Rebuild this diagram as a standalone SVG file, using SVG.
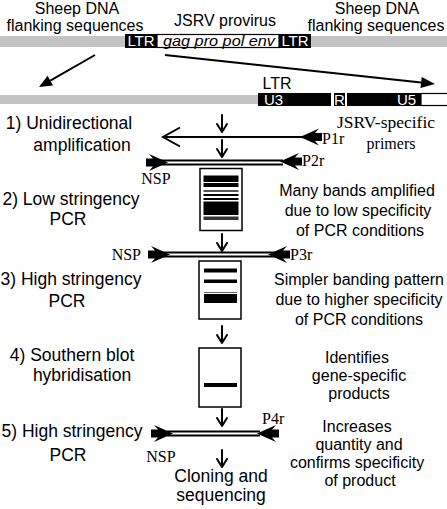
<svg xmlns="http://www.w3.org/2000/svg" width="447" height="509" viewBox="0 0 447 509">
<style>
.sans{font-family:"Liberation Sans",Arial,sans-serif;fill:#000}
.serif{font-family:"Liberation Serif","Times New Roman",serif;fill:#000}
.lbl{font-size:17.5px;text-anchor:middle}
.desc{font-size:16px;text-anchor:middle}
.top{font-size:16px;text-anchor:middle}
.wt{fill:#fff}
.pr{font-size:16px}
.gray{fill:#c4c4c4}
.blk{fill:#000}
.box{fill:#fff;stroke:#000;stroke-width:1.5}
.ln{stroke:#000;stroke-width:2;fill:none}
.dn{stroke:#000;stroke-width:2;fill:none;stroke-linecap:round;stroke-linejoin:round}
</style>
<defs>
<path id="prim" d="M0,0 L-19,-8.5 L-15,-4 L-22,-4 L-22,4 L-15,4 L-19,8.5 Z" fill="#000"/>
<path id="down" d="M0,-17 V0 M-5,-8 L0,0 L5,-8" class="dn"/>
</defs>
<rect width="447" height="509" fill="#fff"/>

<g id="genome-top">
<rect class="gray" x="0" y="36" width="447" height="11"/>
<rect class="blk" x="125" y="34" width="32" height="14"/>
<rect x="157" y="34.5" width="122" height="13" fill="#fff" stroke="#000" stroke-width="1.2"/>
<rect class="blk" x="279" y="34" width="32" height="14"/>
<text class="sans wt" x="141" y="46" font-size="15" text-anchor="middle">LTR</text>
<text class="sans" x="219" y="46" font-size="15" font-style="italic" text-anchor="middle" textLength="112" lengthAdjust="spacingAndGlyphs">gag pro pol env</text>
<text class="sans wt" x="295" y="46" font-size="15" text-anchor="middle">LTR</text>
<text class="sans top" x="77" y="14">Sheep DNA</text>
<text class="sans top" x="75" y="31">flanking sequences</text>
<text class="sans top" x="225" y="26">JSRV provirus</text>
<text class="sans top" x="377" y="14">Sheep DNA</text>
<text class="sans top" x="376" y="31">flanking sequences</text>
</g>

<g id="genome-ltr">
<rect class="gray" x="0" y="95" width="258" height="9"/>
<rect class="blk" x="258" y="93" width="73" height="13"/>
<rect class="blk" x="334" y="93" width="11" height="13"/>
<rect class="blk" x="347" y="93" width="74" height="13"/>
<rect x="421" y="93.5" width="30" height="12" fill="#fff" stroke="#000" stroke-width="1.2"/>
<text class="sans wt" x="264" y="104.5" font-size="15">U3</text>
<text class="sans wt" x="339.5" y="104.5" font-size="15" text-anchor="middle">R</text>
<text class="sans wt" x="397" y="104.5" font-size="15">U5</text>
<text class="sans" x="277" y="89" font-size="16" text-anchor="middle">LTR</text>
</g>

<g id="step1">
<text class="sans lbl" x="69" y="129">1) Unidirectional</text>
<text class="sans lbl" x="82" y="151">amplification</text>
<line class="ln" x1="163" y1="137" x2="305" y2="137"/>
<polyline class="ln" points="180,127.5 163,137 180,146.5"/>
<use href="#prim" transform="translate(300,137) scale(-1,1)"/>
<text class="serif pr" x="322" y="144">P1r</text>
<text class="serif" x="386" y="128" font-size="17.5" text-anchor="middle">JSRV-specific</text>
<text class="serif" x="391" y="149" font-size="16" text-anchor="middle">primers</text>
</g>

<g id="step2">
<text class="sans lbl" x="71" y="205">2) Low stringency</text>
<text class="sans lbl" x="68" y="225">PCR</text>
<rect class="blk" x="153" y="159.5" width="130" height="6"/>
<rect fill="#fff" x="153" y="161.5" width="130" height="2"/>
<use href="#prim" transform="translate(168,162.5)"/>
<use href="#prim" transform="translate(280,161.5) scale(-1,1)"/>
<text class="serif pr" x="302" y="166">P2r</text>
<text class="serif pr" x="156" y="184" text-anchor="middle">NSP</text>
<rect class="box" x="200" y="168.5" width="42" height="62"/>
<g fill="#000">
<rect x="203.5" y="175.5" width="35" height="6.5"/>
<rect x="203.5" y="183" width="35" height="4"/>
<rect x="203.5" y="190" width="35" height="2" fill="#555"/>
<rect x="203.5" y="194" width="35" height="2"/>
<rect x="203.5" y="198" width="35" height="2"/>
<rect x="203.5" y="201.5" width="35" height="13.5"/>
<rect x="203.5" y="216.5" width="35" height="3.5" fill="#333"/>
</g>
<text class="sans desc" x="357" y="196">Many bands amplified</text>
<text class="sans desc" x="358" y="216">due to low specificity</text>
<text class="sans desc" x="360" y="236">of PCR conditions</text>
</g>

<g id="step3">
<text class="sans lbl" x="71" y="285">3) High stringency</text>
<text class="sans lbl" x="67" y="307">PCR</text>
<rect class="blk" x="163" y="251.5" width="112" height="6"/>
<rect fill="#fff" x="163" y="253.5" width="112" height="2"/>
<use href="#prim" transform="translate(170,254.5)"/>
<use href="#prim" transform="translate(268,254.5) scale(-1,1)"/>
<text class="serif pr" x="290" y="260">P3r</text>
<text class="serif pr" x="141" y="260" text-anchor="end">NSP</text>
<rect class="box" x="199" y="261" width="42" height="58"/>
<g fill="#000">
<rect x="204" y="268.5" width="33" height="4"/>
<rect x="204" y="279.5" width="33" height="3.5"/>
<rect x="204" y="292" width="33" height="1" fill="#666"/>
<rect x="204" y="294" width="33" height="9"/>
</g>
<text class="sans desc" x="359" y="285">Simpler banding pattern</text>
<text class="sans desc" x="359" y="305">due to higher specificity</text>
<text class="sans desc" x="359" y="325">of PCR conditions</text>
</g>

<g id="step4">
<text class="sans lbl" x="72" y="361">4) Southern blot</text>
<text class="sans lbl" x="82" y="381">hybridisation</text>
<rect class="box" x="199" y="348" width="42" height="59"/>
<rect class="blk" x="204" y="383" width="33" height="4"/>
<text class="sans desc" x="357" y="363">Identifies</text>
<text class="sans desc" x="359" y="381">gene-specific</text>
<text class="sans desc" x="359" y="399">products</text>
</g>

<g id="step5">
<text class="sans lbl" x="72" y="437">5) High stringency</text>
<text class="sans lbl" x="68" y="461">PCR</text>
<rect class="blk" x="167" y="430.5" width="93" height="6"/>
<rect fill="#fff" x="167" y="432.5" width="93" height="2"/>
<use href="#prim" transform="translate(173,433.5)"/>
<use href="#prim" transform="translate(257,433.5) scale(-1,1)"/>
<text class="serif pr" x="262" y="424">P4r</text>
<text class="serif pr" x="161" y="462" text-anchor="middle">NSP</text>
<text class="sans desc" x="357" y="432">Increases</text>
<text class="sans desc" x="359" y="450">quantity and</text>
<text class="sans desc" x="357" y="468">confirms specificity</text>
<text class="sans desc" x="360" y="486">of product</text>
</g>

<g id="result">
<text class="sans lbl" x="221" y="482">Cloning and</text>
<text class="sans lbl" x="221" y="501">sequencing</text>
</g>

<g id="connectors">
<line class="ln" x1="95" y1="55" x2="50.3" y2="80.6"/>
<polygon points="39,87 53,85.4 47.6,75.8" fill="#000"/>
<line class="ln" x1="165" y1="55" x2="421.1" y2="82.5"/>
<polygon points="435,84 420.5,88 421.7,77" fill="#000"/>
<use href="#down" transform="translate(222,132)"/>
<use href="#down" transform="translate(222,157)"/>
<use href="#down" transform="translate(222,251)"/>
<use href="#down" transform="translate(222,343)"/>
<use href="#down" transform="translate(222,426)"/>
<use href="#down" transform="translate(222,467)"/>
</g>
</svg>
